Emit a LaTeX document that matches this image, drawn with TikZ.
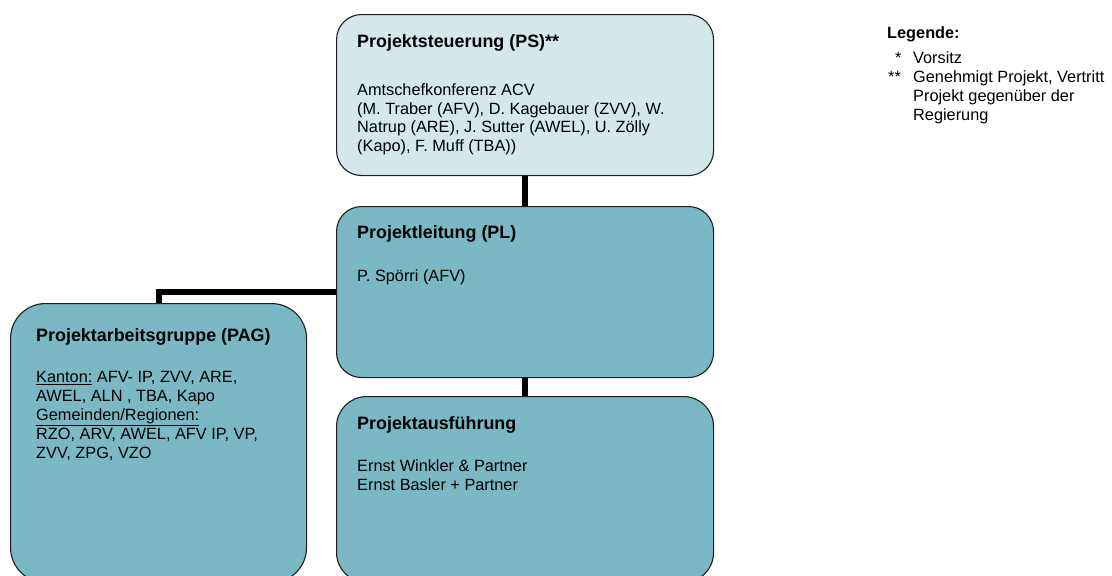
\documentclass[tikz,border=0pt]{standalone}
\usepackage{fontspec}
\setmainfont{Liberation Sans}
\definecolor{psfill}{RGB}{212,232,236}
\definecolor{boxfill}{RGB}{122,184,198}
\definecolor{edge}{RGB}{30,30,30}
\newcommand{\lines}[1]{\begin{tabular}[t]{@{}l@{}}#1\end{tabular}}
\begin{document}
\begin{tikzpicture}[x=1pt,y=-1pt,
  box/.style={draw=edge,line width=1.1pt,anchor=north west,inner sep=0pt},
  conn/.style={line width=6pt,draw=black},
  ttl/.style={anchor=base west,inner sep=0pt,font=\fontsize{17.9}{20.5}\selectfont\bfseries},
  txt/.style={anchor=base west,inner sep=0pt,font=\fontsize{16.3}{18.8}\selectfont},
  leg/.style={anchor=base west,inner sep=0pt,font=\fontsize{16.3}{19}\selectfont}]
\useasboundingbox (0,0) rectangle (1112,576);
% boxes
\node[box,fill=psfill,rounded corners=25pt,minimum width=377pt,minimum height=161pt] (ps) at (336,14) {};
\node[box,fill=boxfill,rounded corners=25pt,minimum width=377pt,minimum height=171pt] (pl) at (336,206) {};
\node[box,fill=boxfill,rounded corners=30pt,minimum width=377pt,minimum height=186pt] (pa) at (336,396) {};
\node[box,fill=boxfill,rounded corners=35pt,minimum width=296pt,minimum height=279pt] (pag) at (10,303) {};
% connectors
\draw[conn] (ps.south) -- (pl.north);
\draw[conn] (pl.south) -- (pa.north);
\draw[conn] (pl.west) -| (pag.north);
% texts
\node[ttl] (pst) at (357,47.9) {Projektsteuerung (PS)**};
\node[txt] (psb) at (357,95.3) {\lines{Amtschefkonferenz ACV\\(M. Traber (AFV), D. Kagebauer (ZVV), W.\\Natrup (ARE), J. Sutter (AWEL), U. Zölly\\(Kapo), F. Muff (TBA))}};
\node[ttl] (plt) at (357,238.4) {Projektleitung (PL)};
\node[txt] (plb) at (357,281.5) {P. Spörri (AFV)};
\node[ttl] (pagt) at (36,341.4) {Projektarbeitsgruppe (PAG)};
\node[txt] (pagb) at (36,382.8) {\lines{\underline{Kanton:} AFV- IP, ZVV, ARE,\\AWEL, ALN , TBA, Kapo\\\underline{Gemeinden/Regionen:}\\RZO, ARV, AWEL, AFV IP, VP,\\ZVV, ZPG, VZO}};
\node[ttl] (pat) at (357,429.2) {Projektausführung};
\node[txt] (pab) at (357,471.8) {\lines{Ernst Winkler \& Partner\\Ernst Basler + Partner}};
% legend
\node[leg,font=\fontsize{16.3}{19}\selectfont\bfseries] (legt) at (887,38.8) {Legende:};
\node[leg] (l1s) at (895,63.8) {*};
\node[leg] (l1) at (913,63.8) {Vorsitz};
\node[leg] (l2s) at (888,82.8) {**};
\node[leg] (l2) at (913,82.8) {Genehmigt Projekt, Vertritt};
\node[leg] (l3) at (913,101.8) {Projekt gegenüber der};
\node[leg] (l4) at (913,120.8) {Regierung};
\end{tikzpicture}
\end{document}
